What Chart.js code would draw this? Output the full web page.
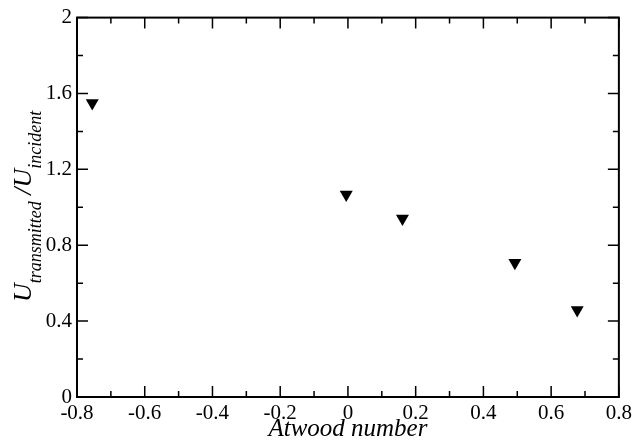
<!DOCTYPE html>
<html>
<head>
<meta charset="utf-8">
<script src="https://cdn.jsdelivr.net/npm/chart.js@4.4.1/dist/chart.umd.min.js"></script>
<style>
  html, body { margin: 0; padding: 0; background: #fff; }
  #wrap { width: 636px; height: 445px; }
</style>
</head>
<body>
<div id="wrap"><canvas id="atwoodChart"></canvas></div>
<script>
// данные
const atwoodNumbers = [-0.755, -0.005, 0.161, 0.493, 0.677];
const velocityRatio = [1.55, 1.068, 0.941, 0.708, 0.458];

const xMajorTicks = [-0.8, -0.6, -0.4, -0.2, 0, 0.2, 0.4, 0.6, 0.8];
const xMinorTicks = [-0.7, -0.5, -0.3, -0.1, 0.1, 0.3, 0.5, 0.7];
const yMajorTicks = [0, 0.4, 0.8, 1.2, 1.6, 2];
const yMinorTicks = [0.2, 0.6, 1.0, 1.4, 1.8];

const serif = '"Liberation Serif", "Times New Roman", serif';

// засечки внутрь рамки со всех четырёх сторон
const innerTicks = {
  id: "innerTicks",
  afterDraw(chart) {
    const { ctx, chartArea: a, scales } = chart;
    const xs = scales.x, ys = scales.y;
    ctx.save();
    ctx.strokeStyle = "#000";
    ctx.lineWidth = 1.5;
    const tickX = (vals, len) => {
      vals.forEach((v) => {
        const px = xs.getPixelForValue(v);
        ctx.beginPath();
        ctx.moveTo(px, a.bottom); ctx.lineTo(px, a.bottom - len);
        ctx.moveTo(px, a.top); ctx.lineTo(px, a.top + len);
        ctx.stroke();
      });
    };
    const tickY = (vals, len) => {
      vals.forEach((v) => {
        const py = ys.getPixelForValue(v);
        ctx.beginPath();
        ctx.moveTo(a.left, py); ctx.lineTo(a.left + len, py);
        ctx.moveTo(a.right, py); ctx.lineTo(a.right - len, py);
        ctx.stroke();
      });
    };
    tickX(xMajorTicks, 11);
    tickX(xMinorTicks, 6);
    tickY(yMajorTicks, 11);
    tickY(yMinorTicks, 6);
    // рамка
    ctx.lineWidth = 2;
    ctx.strokeRect(a.left, a.top, a.right - a.left, a.bottom - a.top);
    ctx.restore();
  },
};

// подпись оси Y с нижними индексами
const yTitle = {
  id: "yTitle",
  afterDraw(chart) {
    const { ctx, chartArea: a } = chart;
    const big = "italic 26px " + serif;
    const small = "italic 18px " + serif;
    const parts = [
      { t: "U", f: big, dy: 0 },
      { t: "transmitted", f: small, dy: 10 },
      { t: " /", f: big, dy: 0 },
      { t: "U", f: big, dy: 0 },
      { t: "incident", f: small, dy: 10 },
    ];
    ctx.save();
    let total = 0;
    parts.forEach((p) => {
      ctx.font = p.f;
      p.w = ctx.measureText(p.t).width;
      total += p.w;
    });
    ctx.translate(31, (a.top + a.bottom) / 2 - 1);
    ctx.rotate(-Math.PI / 2);
    ctx.fillStyle = "#000";
    ctx.textBaseline = "alphabetic";
    let x = -total / 2;
    parts.forEach((p) => {
      ctx.font = p.f;
      ctx.fillText(p.t, x, p.dy);
      x += p.w;
    });
    ctx.restore();
  },
};

function fmt(v) {
  const r = Math.round(v * 10) / 10;
  return Number.isInteger(r) ? String(r) : r.toFixed(1);
}

new Chart(document.getElementById("atwoodChart"), {
  type: "scatter",
  data: {
    datasets: [
      {
        data: atwoodNumbers.map((x, i) => ({ x, y: velocityRatio[i] })),
        pointStyle: "triangle",
        rotation: 180,
        pointRadius: 7.5,
        pointHoverRadius: 7.5,
        backgroundColor: "#000",
        borderColor: "#000",
        borderWidth: 0,
      },
    ],
  },
  options: {
    responsive: true,
    maintainAspectRatio: false,
    animation: false,
    layout: { padding: { top: 17, right: 16, left: 0, bottom: 0 } },
    plugins: { legend: { display: false }, tooltip: { enabled: false } },
    scales: {
      x: {
        type: "linear",
        min: -0.8,
        max: 0.8,
        afterFit(s) { s.height = 48; },
        afterBuildTicks(s) { s.ticks = xMajorTicks.map((v) => ({ value: v })); },
        ticks: {
          callback: fmt,
          color: "#000",
          font: { family: serif, size: 21 },
          padding: 4,
          maxRotation: 0,
          autoSkip: false,
        },
        grid: { display: false, drawTicks: false, tickLength: 0 },
        border: { display: false },
        title: {
          display: true,
          text: "Atwood number",
          color: "#000",
          font: { family: serif, size: 25, style: "italic" },
          padding: { top: 0, bottom: 1 },
        },
      },
      y: {
        type: "linear",
        min: 0,
        max: 2,
        afterFit(s) { s.width = 77; },
        afterBuildTicks(s) { s.ticks = yMajorTicks.map((v) => ({ value: v })); },
        ticks: {
          callback: fmt,
          color: "#000",
          font: { family: serif, size: 21 },
          padding: 5,
          autoSkip: false,
        },
        grid: { display: false, drawTicks: false, tickLength: 0 },
        border: { display: false },
      },
    },
  },
  plugins: [innerTicks, yTitle],
});
</script>
</body>
</html>
